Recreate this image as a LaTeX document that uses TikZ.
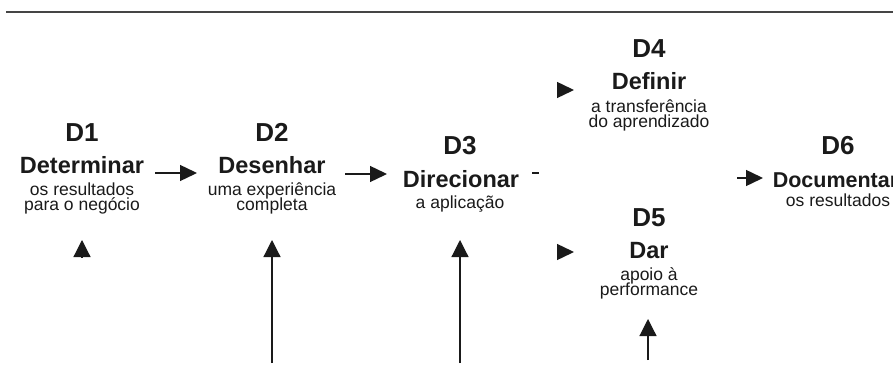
\documentclass[tikz,border=0pt]{standalone}
\usepackage{fontspec}
\setmainfont{Liberation Sans}
\usetikzlibrary{arrows.meta}
\definecolor{ink}{HTML}{1A1A1A}
\definecolor{rulegray}{HTML}{454545}

\begin{document}
\begin{tikzpicture}[x=1pt,y=-1pt,
		dtitle/.style={anchor=base,inner sep=0pt,text=ink,font=\fontsize{26}{28}\selectfont\bfseries},
		dverb/.style={anchor=base,inner sep=0pt,text=ink,font=\fontsize{23.5}{26}\selectfont\bfseries},
		ddesc/.style={anchor=base,inner sep=0pt,text=ink,font=\fontsize{17.5}{14}\selectfont},
		flow/.style={draw=ink,line width=1.4pt,-{Triangle[length=17pt,width=16pt]}},
		riser/.style={draw=ink,line width=1.2pt,-{Triangle[length=17pt,width=17pt]}}]
		\useasboundingbox (0,0) rectangle (893,374);
		\draw[rulegray,line width=2pt] (6,12) coordinate (ruleL) -- (893,12) coordinate (ruleR);
		\node[dtitle] (t1) at (82,142) {D1};
		\node[dverb] (v1) at (82,173) {Determinar};
		\node[ddesc] (x1a) at (82,195) {os resultados};
		\node[ddesc] (x1b) at (82,210) {para o negócio};
		\node[dtitle] (t2) at (272,142) {D2};
		\node[dverb] (v2) at (272,173) {Desenhar};
		\node[ddesc] (x2a) at (272,195) {uma experiência};
		\node[ddesc] (x2b) at (272,210) {completa};
		\node[dtitle] (t3) at (460,155) {D3};
		\node[dverb] (v3) at (461,187) {Direcionar};
		\node[ddesc] (x3a) at (460,208) {a aplicação};
		\node[dtitle] (t4) at (649,58) {D4};
		\node[dverb] (v4) at (649,90) {Definir};
		\node[ddesc] (x4a) at (649,113) {a transferência};
		\node[ddesc] (x4b) at (649,128) {do aprendizado};
		\node[dtitle] (t5) at (649,226) {D5};
		\node[dverb] (v5) at (649,258) {Dar};
		\node[ddesc] (x5a) at (649,280) {apoio à};
		\node[ddesc] (x5b) at (649,295) {performance};
		\node[dtitle] (t6) at (838,155) {D6};
		\node[dverb,font=\fontsize{21.5}{24}\selectfont\bfseries] (v6) at (835.5,187) {Documentar};
		\node[ddesc] (x6a) at (838,206) {os resultados};
		\coordinate (a12s) at (155,173);
		\coordinate (a12e) at (197,173);
		\coordinate (a23s) at (345,174);
		\coordinate (a23e) at (387,174);
		\coordinate (cut3s) at (532,173);
		\coordinate (cut3e) at (539,173);
		\coordinate (tip4s) at (557,90);
		\coordinate (tip4e) at (574,90);
		\coordinate (tip5s) at (557,252);
		\coordinate (tip5e) at (574,252);
		\coordinate (a6s) at (737,178);
		\coordinate (a6e) at (763,178);
		\coordinate (up1s) at (82,257);
		\coordinate (up1e) at (82,240);
		\coordinate (up2s) at (272,363);
		\coordinate (up2e) at (272,240);
		\coordinate (up3s) at (460,363);
		\coordinate (up3e) at (460,240);
		\coordinate (up5s) at (648,360);
		\coordinate (up5e) at (648,319);
		\draw[flow] (a12s) -- (a12e);
		\draw[flow] (a23s) -- (a23e);
		\draw[ink,line width=1.4pt] (cut3s) -- (cut3e);
		\draw[flow] (tip4s) -- (tip4e);
		\draw[flow] (tip5s) -- (tip5e);
		\draw[flow] (a6s) -- (a6e);
		\draw[riser] (up1s) -- (up1e);
		\draw[riser] (up2s) -- (up2e);
		\draw[riser] (up3s) -- (up3e);
		\draw[riser] (up5s) -- (up5e);
	\end{tikzpicture}
\end{document}
